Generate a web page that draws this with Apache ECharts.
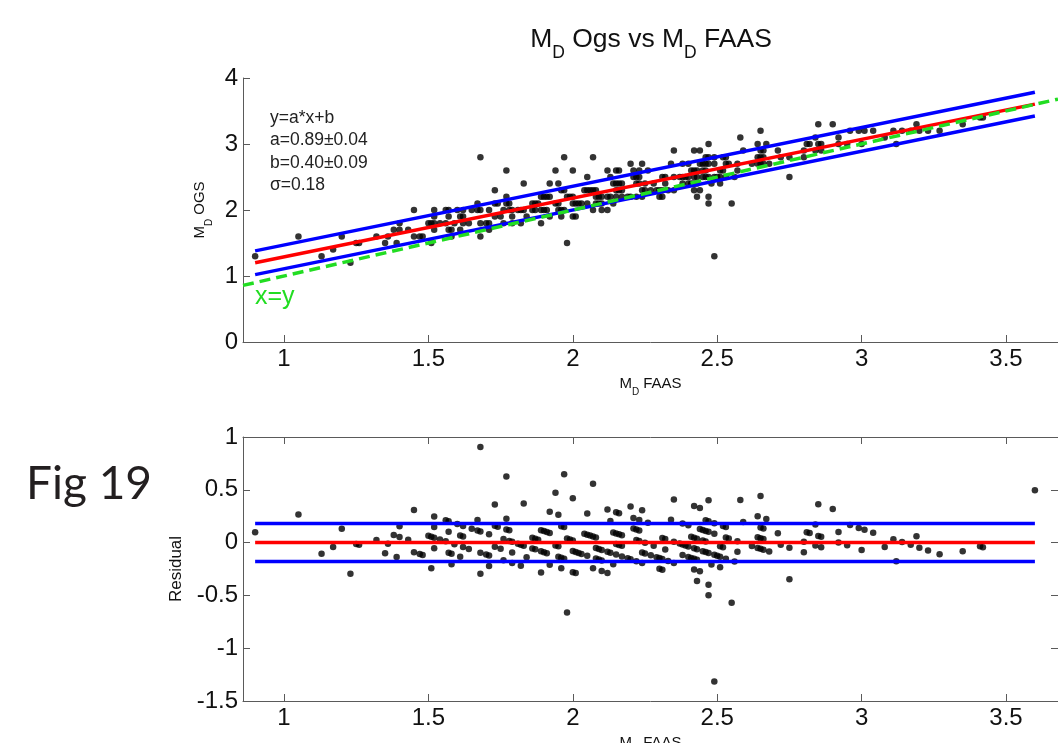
<!DOCTYPE html>
<html><head><meta charset="utf-8">
<script src="https://cdn.jsdelivr.net/npm/echarts@6/dist/echarts.min.js"></script>
<style>html,body{margin:0;padding:0;background:#fff}#c{width:1058px;height:743px}</style>
</head><body><div id="c"></div>
<script>
// ---- data ----
const xFAAS = [
 0.90,1.05,1.13,1.17,1.20,1.23,1.25,1.26,1.32,1.35,
 1.36,1.38,1.39,1.40,1.40,1.43,1.45,1.45,1.47,1.48,
 1.51,1.50,1.51,1.52,1.54,1.52,1.52,1.52,1.56,1.57,
 1.57,1.57,1.58,1.58,1.56,1.59,1.60,1.61,1.61,1.62,
 1.62,1.62,1.64,1.65,1.67,1.67,1.68,1.68,1.68,1.68,
 1.70,1.71,1.71,1.71,1.73,1.73,1.74,1.73,1.75,1.76,
 1.77,1.77,1.77,1.78,1.76,1.78,1.79,1.79,1.79,1.81,
 1.82,1.83,1.82,1.83,1.84,1.86,1.87,1.88,1.86,1.87,
 1.89,1.89,1.89,1.90,1.91,1.92,1.92,1.92,1.90,1.91,
 1.94,1.95,1.94,1.95,1.95,1.96,1.97,1.96,1.96,1.97,
 1.97,1.98,1.98,1.99,2.00,2.00,2.00,2.01,2.00,2.01,
 2.02,2.03,2.05,2.04,2.05,2.06,2.07,2.08,2.05,2.07,
 2.07,2.08,2.09,2.10,2.12,2.13,2.08,2.09,2.10,2.10,
 2.12,2.12,2.13,2.14,2.15,2.16,2.14,2.15,2.16,2.17,
 2.15,2.16,2.17,2.15,2.17,2.19,2.20,2.21,2.20,2.22,
 2.24,2.21,2.23,2.22,2.23,2.22,2.23,2.24,2.24,2.25,
 2.25,2.27,2.26,2.28,2.29,2.30,2.31,2.30,2.31,2.31,
 2.32,2.32,2.33,2.34,2.35,2.35,2.35,2.37,2.38,2.40,
 2.38,2.40,2.38,2.39,2.40,2.42,2.43,2.41,2.42,2.43,
 2.41,2.42,2.43,2.42,2.44,2.42,2.44,2.43,2.44,2.45,
 2.46,2.47,2.45,2.46,2.45,2.46,2.47,2.49,2.50,2.51,
 2.46,2.47,2.47,2.47,2.47,2.48,2.49,2.49,2.49,2.51,
 2.52,2.51,2.52,2.53,2.53,2.54,2.53,2.55,2.56,2.57,
 2.57,2.58,2.59,2.62,2.64,2.65,2.66,2.64,2.64,2.65,
 2.65,2.65,2.66,2.67,2.66,2.68,2.71,2.72,2.75,2.75,
 2.80,2.80,2.81,2.82,2.84,2.84,2.85,2.85,2.86,2.86,
 2.90,2.92,2.92,2.95,2.96,2.99,3.01,3.00,3.04,3.08,
 3.11,3.12,3.14,3.17,3.19,3.20,3.23,3.27,3.35,3.41,
 3.42,3.60
];
const yOGS = [
 1.3,1.6,1.3,1.4,1.6,1.2,1.5,1.5,1.6,1.5,
 1.6,1.7,1.5,1.8,1.7,1.7,2.0,1.6,1.6,1.6,
 1.5,1.8,1.8,1.8,1.8,2.0,1.9,1.7,2.0,2.0,
 1.9,1.7,1.7,1.6,1.8,1.8,2.0,1.9,1.7,2.0,
 1.9,1.8,1.8,2.0,2.1,2.0,2.0,2.8,1.8,1.6,
 1.8,1.8,2.0,1.7,2.3,2.1,2.1,1.9,1.9,1.8,
 2.6,2.2,2.1,2.1,2.0,2.0,2.0,1.9,1.8,2.0,
 2.0,2.0,1.8,2.4,1.9,2.1,2.1,2.1,2.0,2.0,
 2.0,1.8,2.2,2.2,2.2,2.4,2.2,1.9,2.0,2.0,
 2.6,2.4,2.1,2.1,2.0,2.0,2.0,1.9,2.3,2.3,
 2.8,1.5,2.2,2.2,2.2,2.6,1.9,1.9,2.1,2.1,
 2.1,2.1,2.1,2.3,2.3,2.3,2.3,2.3,2.5,2.8,
 2.0,2.2,2.2,2.2,2.2,2.2,2.1,2.1,2.1,2.0,
 2.0,2.6,2.5,2.1,2.6,2.6,2.4,2.4,2.4,2.4,
 2.3,2.3,2.3,2.2,2.2,2.2,2.7,2.5,2.2,2.2,
 2.2,2.6,2.6,2.5,2.5,2.4,2.4,2.7,2.3,2.3,
 2.4,2.3,2.6,2.4,2.3,2.3,2.3,2.2,2.2,2.5,
 2.5,2.4,2.3,2.7,2.9,2.3,2.5,2.5,2.7,2.7,
 2.4,2.4,2.5,2.5,2.5,2.5,2.5,2.6,2.6,2.6,
 2.4,2.4,2.4,2.9,2.9,2.3,2.3,2.2,2.7,2.7,
 2.7,2.7,2.6,2.6,2.5,2.5,2.5,2.5,2.5,2.5,
 2.8,2.8,3.0,2.2,2.1,2.4,2.8,1.3,2.7,2.6,
 2.6,2.4,2.8,2.8,2.7,2.7,2.5,2.1,2.5,2.6,
 2.7,3.1,2.9,2.7,2.7,2.7,2.7,3.0,2.8,2.8,
 3.2,2.9,2.9,3.0,2.8,2.7,2.9,2.8,2.8,2.5,
 2.8,2.9,3.0,3.0,3.1,2.9,3.3,3.0,3.0,2.9,
 3.3,3.1,3.0,3.0,3.2,3.2,3.2,3.0,3.2,3.1,
 3.2,3.0,3.2,3.2,3.3,3.2,3.2,3.2,3.3,3.4,
 3.4,4.1
];
const fitA = 0.89, fitB = 0.40, sigma = 0.18;   // printed fit parameters
const fitRange = [0.9, 3.6];                     // span of the fit lines
const xLimits = [0.858, 3.68];
const xTicks = [1, 1.5, 2, 2.5, 3, 3.5];
const yTopLimits = [0, 4];
const yResLimits = [-1.5, 1];
const annotationLines = ['y=a*x+b', 'a=0.89\u00b10.04', 'b=0.40\u00b10.09', '\u03c3=0.18'];

// ---- derived series ----
const pts = xFAAS.map((x, i) => [x, yOGS[i]]);
const resid = xFAAS.map((x, i) => [x, +(yOGS[i] - (fitA * x + fitB)).toFixed(3)]);
const fitLine = fitRange.map(x => [x, fitA * x + fitB]);
const upLine = fitRange.map(x => [x, fitA * x + fitB + sigma]);
const loLine = fitRange.map(x => [x, fitA * x + fitB - sigma]);
const idLine = xLimits.map(x => [x, x]);
const zeroLine = fitRange.map(x => [x, 0]);
const upRes = fitRange.map(x => [x, sigma]);
const loRes = fitRange.map(x => [x, -sigma]);

const FF = "'Liberation Sans', Arial, Helvetica, sans-serif";
const axisCol = '#5a5a5a';
const BLUE = '#0000ff', RED = '#ff0000', GREEN = '#22dd22';

function xAx(grid, showLabel, pos) {
  return {
    type: 'value', gridIndex: grid, min: xLimits[0], max: xLimits[1], position: pos,
    axisLine: { show: true, onZero: false, lineStyle: { color: axisCol, width: 1 } },
    axisTick: { show: true, inside: true, length: 7, customValues: xTicks, lineStyle: { color: axisCol } },
    axisLabel: { show: showLabel, customValues: xTicks, fontFamily: FF, fontSize: 24, color: '#111', margin: 5 },
    splitLine: { show: false }
  };
}
function yAx(grid, lim, showLabel, pos) {
  return {
    type: 'value', gridIndex: grid, min: lim[0], max: lim[1], interval: grid === 0 ? 1 : 0.5, position: pos,
    axisLine: { show: true, onZero: false, lineStyle: { color: axisCol, width: 1 } },
    axisTick: { show: true, inside: true, length: 7, lineStyle: { color: axisCol } },
    axisLabel: { show: showLabel, fontFamily: FF, fontSize: 24, color: '#111', margin: 5 },
    splitLine: { show: false }
  };
}
const subRich = (fs, lh, sfs) => ({
  m: { fontFamily: FF, fontSize: fs, lineHeight: lh, color: '#111' },
  d: { fontFamily: FF, fontSize: sfs, verticalAlign: 'bottom', color: '#111' }
});

const xa0 = xAx(0, true, 'bottom');
Object.assign(xa0, { name: '{m|M}{d|D}{m| FAAS}', nameLocation: 'middle', nameGap: 28,
  nameTextStyle: { rich: subRich(15, 27, 10) } });
const xa1 = xAx(1, true, 'bottom');
Object.assign(xa1, { name: '{m|M}{d|D}{m| FAAS}', nameLocation: 'middle', nameGap: 28,
  nameTextStyle: { rich: subRich(15, 27, 10) } });
const xa2 = xAx(1, false, 'top');

const ya0 = yAx(0, yTopLimits, true, 'left');
Object.assign(ya0, { name: '{m|M}{d|D}{m| OGS}', nameLocation: 'middle', nameGap: 20, nameRotate: 90,
  nameTextStyle: { rich: subRich(15, 27, 10) } });
const ya1 = yAx(1, yResLimits, true, 'left');
Object.assign(ya1, { name: 'Residual', nameLocation: 'middle', nameGap: 58, nameRotate: 90,
  nameTextStyle: { fontFamily: FF, fontSize: 17, color: '#111' } });
const ya2 = yAx(1, yResLimits, false, 'right');

const lineS = (xi, yi, data, color, type, z) => ({
  type: 'line', xAxisIndex: xi, yAxisIndex: yi, data, symbol: 'none', silent: true, z,
  lineStyle: { color, width: 3.5, type: type || 'solid' }, clip: true, animation: false
});

const option = {
  animation: false,
  backgroundColor: '#ffffff',
  grid: [
    { left: 243, top: 78, width: 815, height: 264, outerBoundsMode: 'none', containLabel: false },
    { left: 243, top: 437, width: 815, height: 264, outerBoundsMode: 'none', containLabel: false }
  ],
  xAxis: [xa0, xa1, xa2],
  yAxis: [ya0, ya1, ya2],
  series: [
    { type: 'scatter', xAxisIndex: 0, yAxisIndex: 0, data: pts, symbolSize: 6.5, itemStyle: { color: '#000' }, silent: true, z: 2, clip: true },
    lineS(0, 0, upLine, BLUE, null, 3),
    lineS(0, 0, loLine, BLUE, null, 3),
    lineS(0, 0, fitLine, RED, null, 4),
    lineS(0, 0, idLine, GREEN, [11, 6], 5),
    { type: 'scatter', xAxisIndex: 1, yAxisIndex: 1, data: resid, symbolSize: 6.5, itemStyle: { color: '#000' }, silent: true, z: 2, clip: true },
    lineS(1, 1, upRes, BLUE, null, 3),
    lineS(1, 1, loRes, BLUE, null, 3),
    lineS(1, 1, zeroLine, RED, null, 4)
  ],
  graphic: [
    { type: 'text', x: 651, y: 40, silent: true,
      style: { text: '{m|M}{d|D}{m| Ogs vs M}{d|D}{m| FAAS}', align: 'center', verticalAlign: 'middle',
        rich: { m: { fontFamily: FF, fontSize: 26.5, lineHeight: 45, fill: '#111' },
                d: { fontFamily: FF, fontSize: 17.5, verticalAlign: 'bottom', fill: '#111' } } } },
    { type: 'text', x: 270, y: 107, silent: true,
      style: { text: annotationLines.join('\n'), fontFamily: FF, fontSize: 17.5, lineHeight: 22.3, fill: '#222', align: 'left', verticalAlign: 'top' } },
    { type: 'text', x: 255, y: 297, silent: true,
      style: { text: 'x=y', fontFamily: FF, fontSize: 25, fill: GREEN, align: 'left', verticalAlign: 'middle' } },
    { type: 'text', x: 26, y: 484, silent: true,
      style: { text: 'Fig 19', fontFamily: "Lato, 'Noto Sans', sans-serif", fontSize: 46, fill: '#231f20', align: 'left', verticalAlign: 'middle' } }
  ]
};
const chart = echarts.init(document.getElementById('c'), null, { renderer: 'canvas' });
chart.setOption(option);
</script></body></html>
